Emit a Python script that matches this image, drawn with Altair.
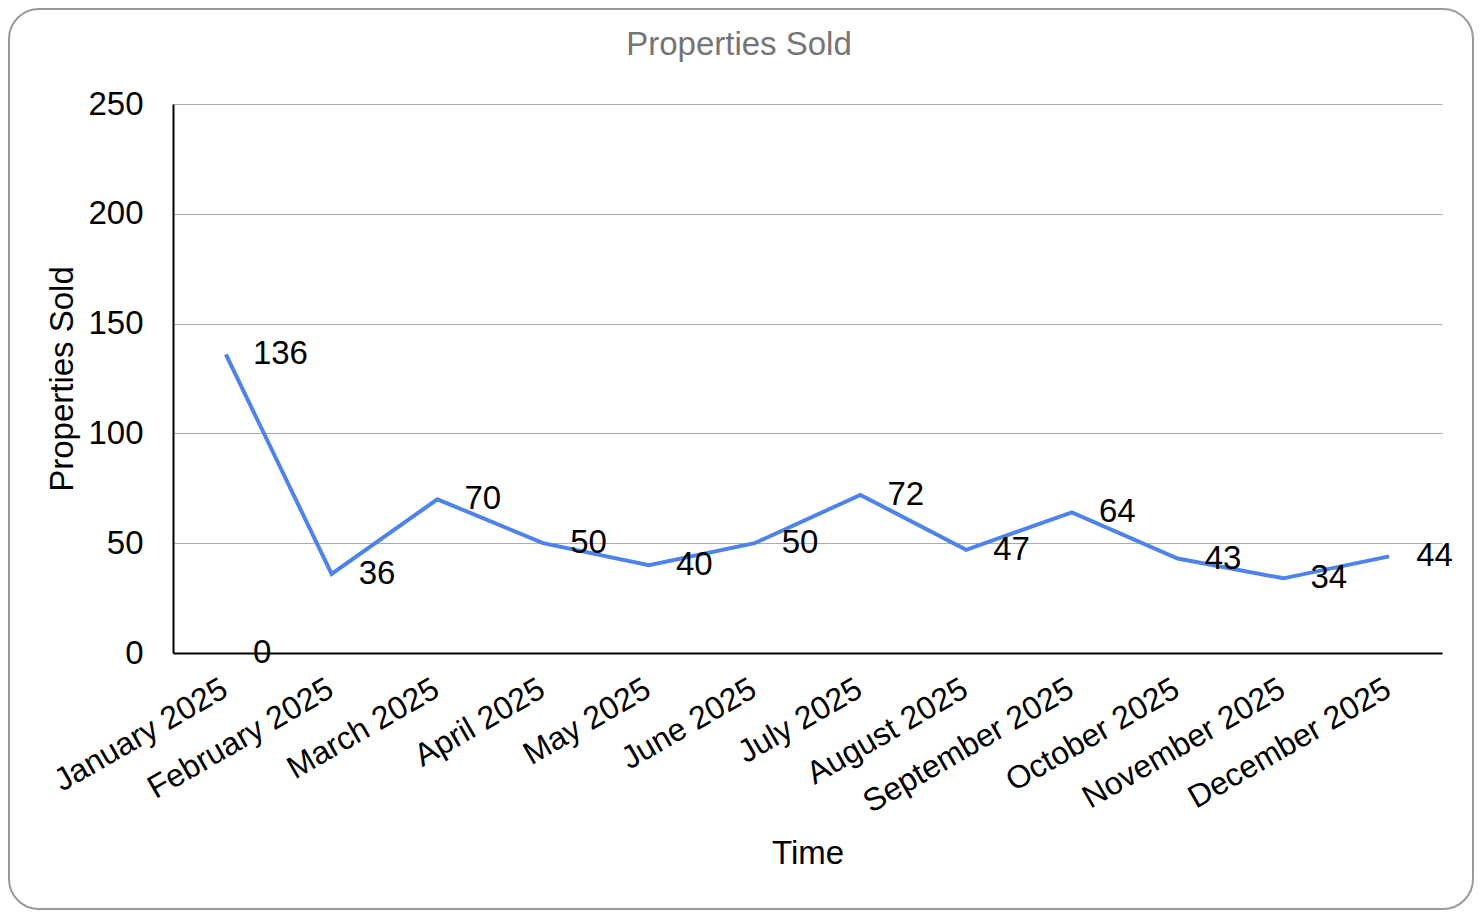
import altair as alt
import pandas as pd

months = ["January 2025", "February 2025", "March 2025", "April 2025", "May 2025",
          "June 2025", "July 2025", "August 2025", "September 2025", "October 2025",
          "November 2025", "December 2025"]
sold = [136, 36, 70, 50, 40, 50, 72, 47, 64, 43, 34, 44]
extra_months = ["January 2025"]
extra_values = [0]
y_ticks = [0, 50, 100, 150, 200, 250]

FONT = "Liberation Sans"
FS = 33
FSX = 32

df = pd.DataFrame({"Time": months, "Sold": sold})
df_extra = pd.DataFrame({"Time": extra_months, "Sold": extra_values})
dummy = pd.DataFrame({"a": [0]})

x_enc = alt.X("Time:N", sort=months,
              scale=alt.Scale(domain=months, padding=0.5),
              axis=alt.Axis(title="Time", labelAngle=-30, labelAlign="right",
                            labelBaseline="top", labelPadding=20, labelOffset=-9,
                            ticks=False, grid=False, domainColor="#000000", domainWidth=2,
                            labelFont=FONT, labelFontSize=FSX, labelColor="#000000",
                            titleFont=FONT, titleFontSize=FS, titleFontWeight="normal",
                            titleColor="#000000", titleY=200, titleBaseline="middle",
                            labelOverlap=False, labelLimit=400))
y_enc = alt.Y("Sold:Q", scale=alt.Scale(domain=[0, 250], nice=False),
              axis=alt.Axis(title="Properties Sold", values=y_ticks, ticks=False,
                            grid=True, gridColor="#ababab", gridWidth=1.2,
                            domainColor="#000000", domainWidth=2,
                            labelFont=FONT, labelFontSize=FS, labelColor="#000000",
                            labelPadding=30, labelBaseline="middle",
                            titleFont=FONT, titleFontSize=FS, titleFontWeight="normal",
                            titleColor="#000000", titleX=-111, titleBaseline="middle"))

border = alt.Chart(dummy).mark_rect(
    fillOpacity=0, stroke="#9a9a9a", strokeWidth=2, cornerRadius=30
).encode(x=alt.value(-164), x2=alt.value(1300), y=alt.value(-95), y2=alt.value(805))

title = alt.Chart(dummy).mark_text(
    text="Properties Sold", font=FONT, fontSize=FS, color="#757575",
    align="center", baseline="middle"
).encode(x=alt.value(566), y=alt.value(-59))

line = alt.Chart(df).mark_line(color="#5083ea", strokeWidth=4).encode(x=x_enc, y=y_enc)

labels = alt.Chart(df).mark_text(
    align="left", baseline="middle", dx=27, font=FONT, fontSize=FS, color="#000000"
).encode(x=alt.X("Time:N", sort=months), y="Sold:Q", text="Sold:Q")

extra = alt.Chart(df_extra).mark_text(
    align="left", baseline="middle", dx=27, font=FONT, fontSize=FS, color="#000000"
).encode(x=alt.X("Time:N", sort=months), y="Sold:Q", text="Sold:Q")

chart = alt.layer(border, line, labels, extra, title).properties(
    width=1269, height=549,
    autosize=alt.AutoSizeParams(type="none"),
    padding={"left": 165, "top": 96, "right": 32, "bottom": 257},
    background="white",
).configure_view(stroke=None)

chart.save("out.html", embed_options={"renderer": "svg", "actions": False})
